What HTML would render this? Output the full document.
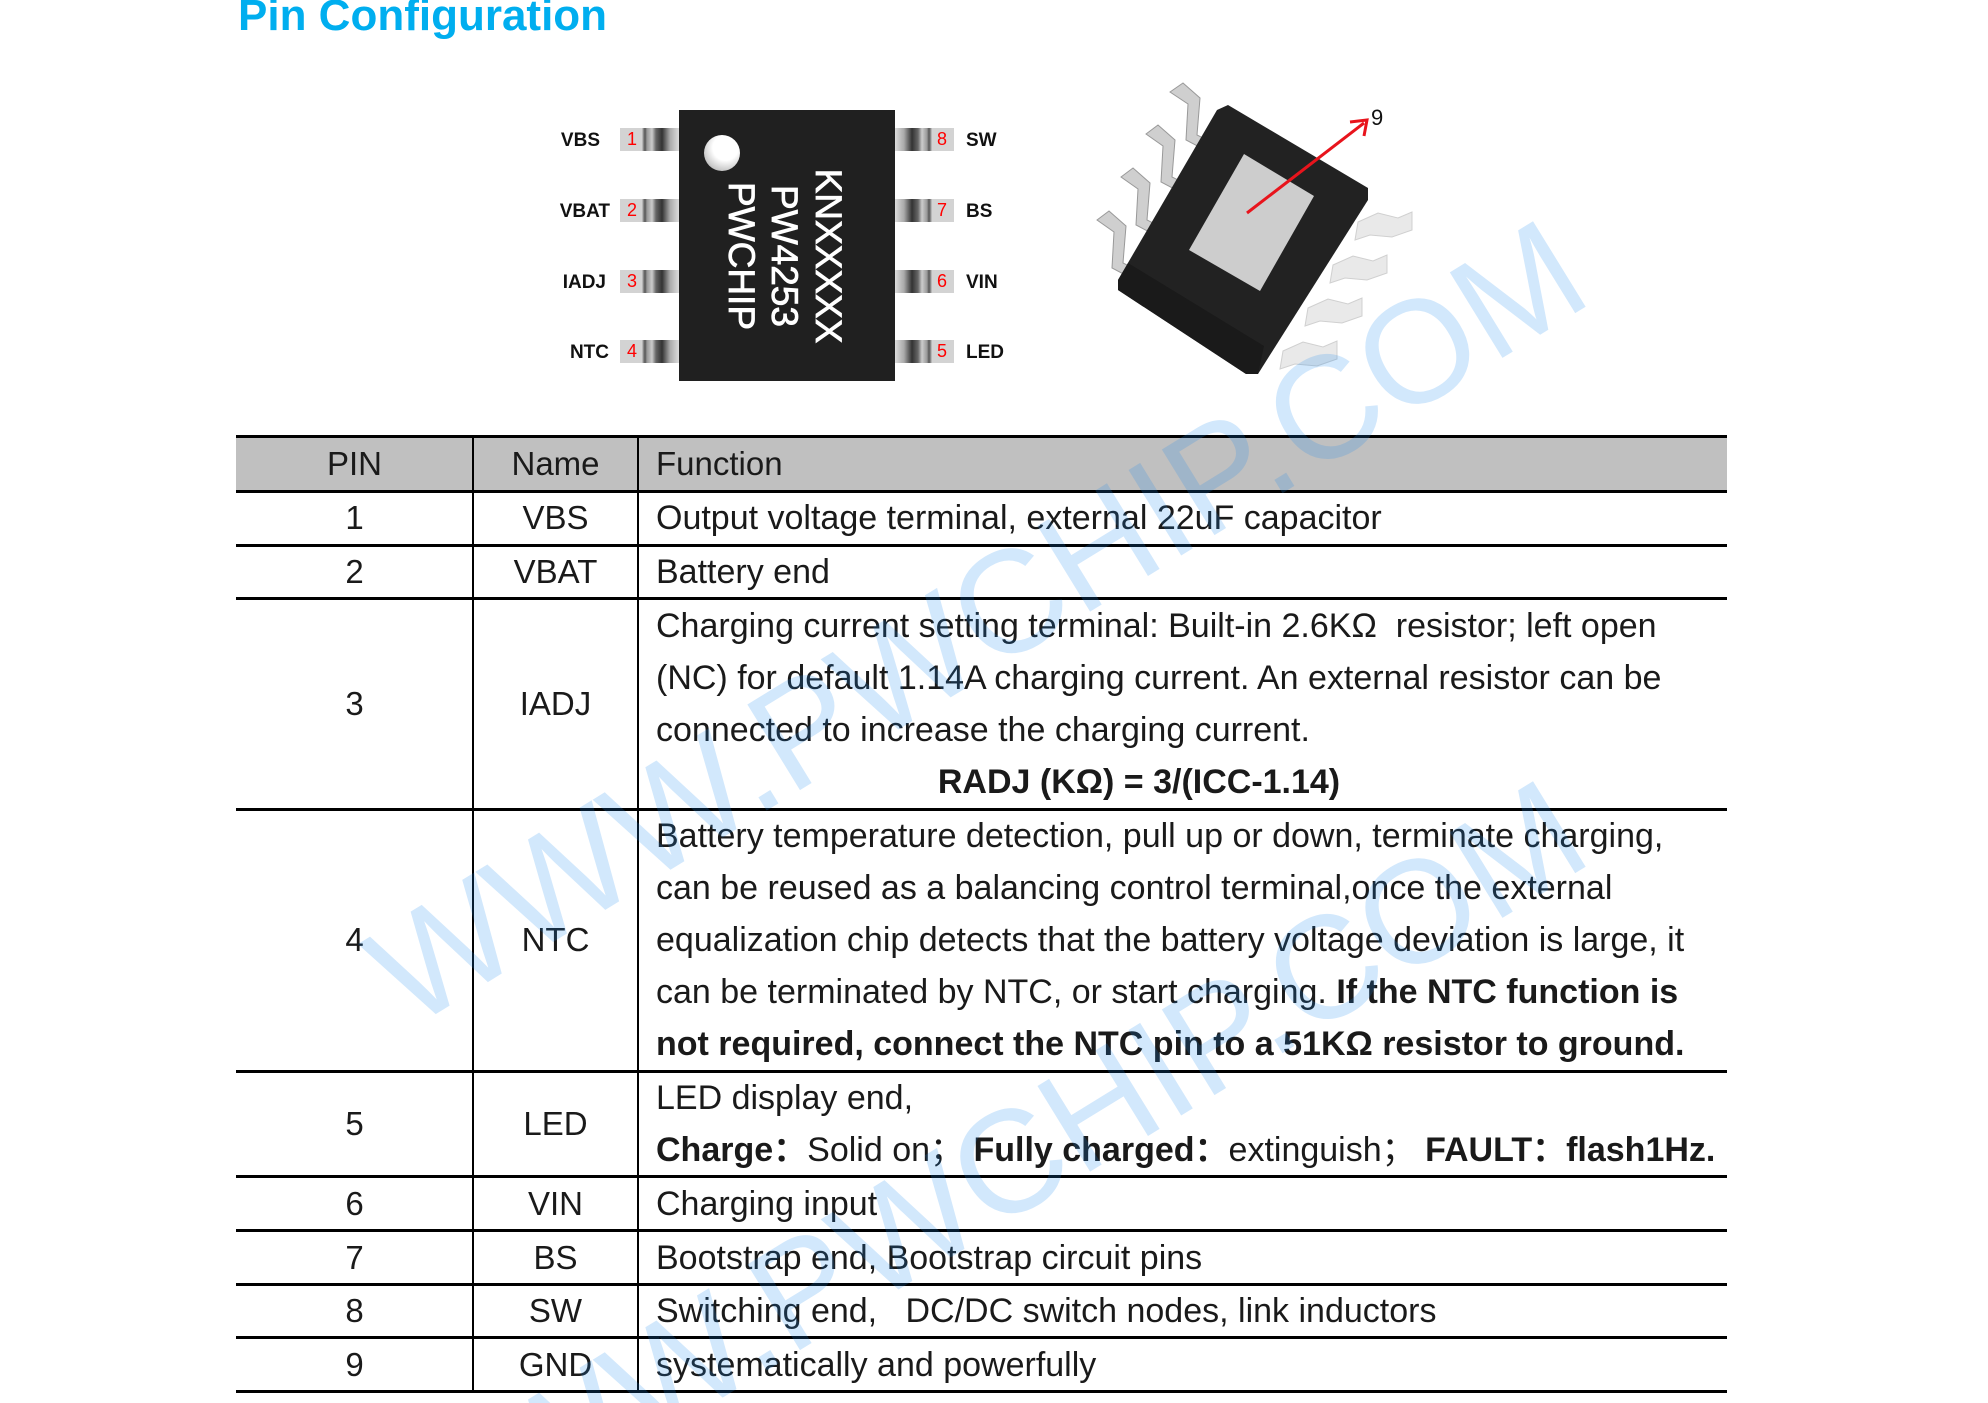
<!DOCTYPE html>
<html><head><meta charset="utf-8"><style>
body{margin:0;background:#fff;overflow:hidden;}
#w{position:relative;width:1988px;height:1403px;overflow:hidden;background:#fff;font-family:"Liberation Sans",sans-serif;color:#1a1a1a;}
.abs{position:absolute;}
.title{left:238px;top:-9px;font-size:44px;font-weight:bold;color:#00aeef;white-space:nowrap;}
.hl{position:absolute;left:236px;width:1491px;height:3px;background:#000;}
.vl{position:absolute;width:2px;background:#000;top:436px;height:956px;}
.c{position:absolute;font-size:33px;white-space:nowrap;text-align:center;transform:translateY(-50%);}
.t{position:absolute;left:656px;font-size:34px;line-height:52px;white-space:nowrap;}
.pin{position:absolute;width:59px;height:23px;}
.pl{background:linear-gradient(90deg,#d3d3d3 0,#d3d3d3 22px,#999 23px,#555 25px,#999 27px,#ccc 32px,#666 36px,#333 42px,#aaa 50px,#ddd 59px);}
.pr{background:linear-gradient(270deg,#d3d3d3 0,#d3d3d3 22px,#999 23px,#555 25px,#999 27px,#ccc 32px,#666 36px,#333 42px,#aaa 50px,#ddd 59px);}
.num{position:absolute;color:#f00;font-size:18px;}
.lab{position:absolute;font-size:19px;color:#111;font-weight:bold;}
b{font-weight:bold;}
</style></head><body><div id="w">
<div class="abs title">Pin Configuration</div>

<div class="abs" style="left:679px;top:110px;width:216px;height:271px;background:#202020;"></div>
<div class="abs" style="left:704px;top:135px;width:36px;height:36px;border-radius:50%;background:radial-gradient(circle at 60% 35%,#fff 0,#fff 40%,#bbb 80%,#888 100%);"></div>
<svg class="abs" style="left:0;top:0" width="1988" height="420">
  <g font-family="Liberation Sans,sans-serif" font-size="37" fill="#fff" stroke="#fff" stroke-width="0.8">
    <text transform="translate(816,256) rotate(90)" text-anchor="middle">KNXXXXX</text>
    <text transform="translate(772,256) rotate(90)" text-anchor="middle">PW4253</text>
    <text transform="translate(729,256) rotate(90)" text-anchor="middle">PWCHIP</text>
  </g>
  <g fill="#cfcfcf" stroke="#999" stroke-width="1">
    <path d="M1170 92 L1183 83 L1200 98 L1197 135 L1213 143 L1205 150 L1186 140 L1188 104 Z"/>
    <path d="M1146 134 L1158 125 L1175 140 L1172 177 L1188 185 L1180 192 L1161 182 L1163 146 Z"/>
    <path d="M1121 177 L1133 168 L1150 183 L1147 220 L1163 228 L1155 235 L1136 225 L1138 189 Z"/>
    <path d="M1097 220 L1109 211 L1126 226 L1123 263 L1139 271 L1131 278 L1112 268 L1114 232 Z"/>
  </g>
  <g fill="#e9e9e9" stroke="#d0d0d0" stroke-width="1">
    <path d="M1358 222 L1378 213 L1398 218 L1412 212 L1412 230 L1392 237 L1370 235 L1355 240 Z"/>
    <path d="M1333 265 L1353 256 L1373 261 L1387 255 L1387 273 L1367 280 L1345 278 L1330 283 Z"/>
    <path d="M1308 308 L1328 299 L1348 304 L1362 298 L1362 316 L1342 323 L1320 321 L1305 326 Z"/>
    <path d="M1283 351 L1303 342 L1323 347 L1337 341 L1337 359 L1317 366 L1295 364 L1280 369 Z"/>
  </g>
  <polygon points="1217,110 1228,105 1368,188 1368,200 1258,374 1246,374 1118,290 1118,280" fill="#222"/>
  <polygon points="1118,280 1128,263 1264,346 1258,374 1246,374 1118,290" fill="#1a1a1a"/>
  <polygon points="1244,154 1314,196 1260,291 1189,250" fill="#cdcdcd"/>
  <line x1="1247" y1="213" x2="1364" y2="123" stroke="#e8141c" stroke-width="3"/>
  <polyline points="1350,122 1367,120 1364,136" fill="none" stroke="#e8141c" stroke-width="3"/>
  <text x="1371" y="125" font-family="Liberation Sans,sans-serif" font-size="22" fill="#111">9</text>
</svg>

<div class="pin pl" style="left:620px;top:128px"></div>
<div class="pin pl" style="left:620px;top:199px"></div>
<div class="pin pl" style="left:620px;top:270px"></div>
<div class="pin pl" style="left:620px;top:340px"></div>
<div class="pin pr" style="left:895px;top:128px"></div>
<div class="pin pr" style="left:895px;top:199px"></div>
<div class="pin pr" style="left:895px;top:270px"></div>
<div class="pin pr" style="left:895px;top:340px"></div>
<div class="num" style="left:627px;top:129px">1</div>
<div class="num" style="left:627px;top:200px">2</div>
<div class="num" style="left:627px;top:271px">3</div>
<div class="num" style="left:627px;top:341px">4</div>
<div class="num" style="left:937px;top:129px">8</div>
<div class="num" style="left:937px;top:200px">7</div>
<div class="num" style="left:937px;top:271px">6</div>
<div class="num" style="left:937px;top:341px">5</div>
<div class="lab" style="right:1388px;top:130px">VBS</div>
<div class="lab" style="right:1378px;top:201px">VBAT</div>
<div class="lab" style="right:1382px;top:272px">IADJ</div>
<div class="lab" style="right:1379px;top:342px">NTC</div>
<div class="lab" style="left:966px;top:130px">SW</div>
<div class="lab" style="left:966px;top:201px">BS</div>
<div class="lab" style="left:966px;top:272px">VIN</div>
<div class="lab" style="left:966px;top:342px">LED</div>

<div class="abs" style="left:236px;top:436px;width:1491px;height:55px;background:#c0c0c0;"></div>
<div class="hl" style="top:435px"></div>
<div class="hl" style="top:490px"></div>
<div class="hl" style="top:544px"></div>
<div class="hl" style="top:597px"></div>
<div class="hl" style="top:808px"></div>
<div class="hl" style="top:1070px"></div>
<div class="hl" style="top:1175px"></div>
<div class="hl" style="top:1229px"></div>
<div class="hl" style="top:1283px"></div>
<div class="hl" style="top:1336px"></div>
<div class="hl" style="top:1390px"></div>
<div class="vl" style="left:472px"></div>
<div class="vl" style="left:637px"></div>

<div class="c" style="left:236px;width:237px;top:464px">PIN</div>
<div class="c" style="left:473px;width:165px;top:464px">Name</div>
<div class="c" style="left:656px;top:464px">Function</div>

<div class="c" style="left:236px;width:237px;top:518px">1</div><div class="c" style="left:473px;width:165px;top:518px">VBS</div>
<div class="c" style="left:236px;width:237px;top:572px">2</div><div class="c" style="left:473px;width:165px;top:572px">VBAT</div>
<div class="c" style="left:236px;width:237px;top:704px">3</div><div class="c" style="left:473px;width:165px;top:704px">IADJ</div>
<div class="c" style="left:236px;width:237px;top:940px">4</div><div class="c" style="left:473px;width:165px;top:940px">NTC</div>
<div class="c" style="left:236px;width:237px;top:1124px">5</div><div class="c" style="left:473px;width:165px;top:1124px">LED</div>
<div class="c" style="left:236px;width:237px;top:1204px">6</div><div class="c" style="left:473px;width:165px;top:1204px">VIN</div>
<div class="c" style="left:236px;width:237px;top:1258px">7</div><div class="c" style="left:473px;width:165px;top:1258px">BS</div>
<div class="c" style="left:236px;width:237px;top:1311px">8</div><div class="c" style="left:473px;width:165px;top:1311px">SW</div>
<div class="c" style="left:236px;width:237px;top:1365px">9</div><div class="c" style="left:473px;width:165px;top:1365px">GND</div>

<div class="t" style="top:492px">Output voltage terminal, external 22uF capacitor</div>
<div class="t" style="top:546px">Battery end</div>
<div class="t" style="top:600px">Charging current setting terminal: Built-in 2.6KΩ&nbsp; resistor; left open<br>(NC) for default 1.14A charging current. An external resistor can be<br>connected to increase the charging current.</div>
<div class="t" style="top:756px;left:639px;width:1000px;text-align:center;font-weight:bold">RADJ (KΩ) = 3/(ICC-1.14)</div>
<div class="t" style="top:810px">Battery temperature detection, pull up or down, terminate charging,<br>can be reused as a balancing control terminal,once the external<br>equalization chip detects that the battery voltage deviation is large, it<br>can be terminated by NTC, or start charging. <b>If the NTC function is</b><br><b>not required, connect the NTC pin to a 51KΩ resistor to ground.</b></div>
<div class="t" style="top:1072px">LED display end,<br><b>Charge：</b>Solid on；&nbsp;<b>Fully charged：</b>extinguish；&nbsp;<b>FAULT：flash1Hz.</b></div>
<div class="t" style="top:1178px">Charging input</div>
<div class="t" style="top:1232px">Bootstrap end, Bootstrap circuit pins</div>
<div class="t" style="top:1285px">Switching end,&nbsp;&nbsp; DC/DC switch nodes, link inductors</div>
<div class="t" style="top:1339px">systematically and powerfully</div>

<svg class="abs" style="left:0;top:0;pointer-events:none" width="1988" height="1403">
  <g font-family="Liberation Sans,sans-serif" font-size="146" fill="rgb(30,140,240)" fill-opacity="0.2">
    <text transform="translate(410,1030) rotate(-31.6)">WWW.PWCHIP.COM</text>
    <text transform="translate(410,1590) rotate(-31.6)">WWW.PWCHIP.COM</text>
  </g>
</svg>
</div></body></html>
